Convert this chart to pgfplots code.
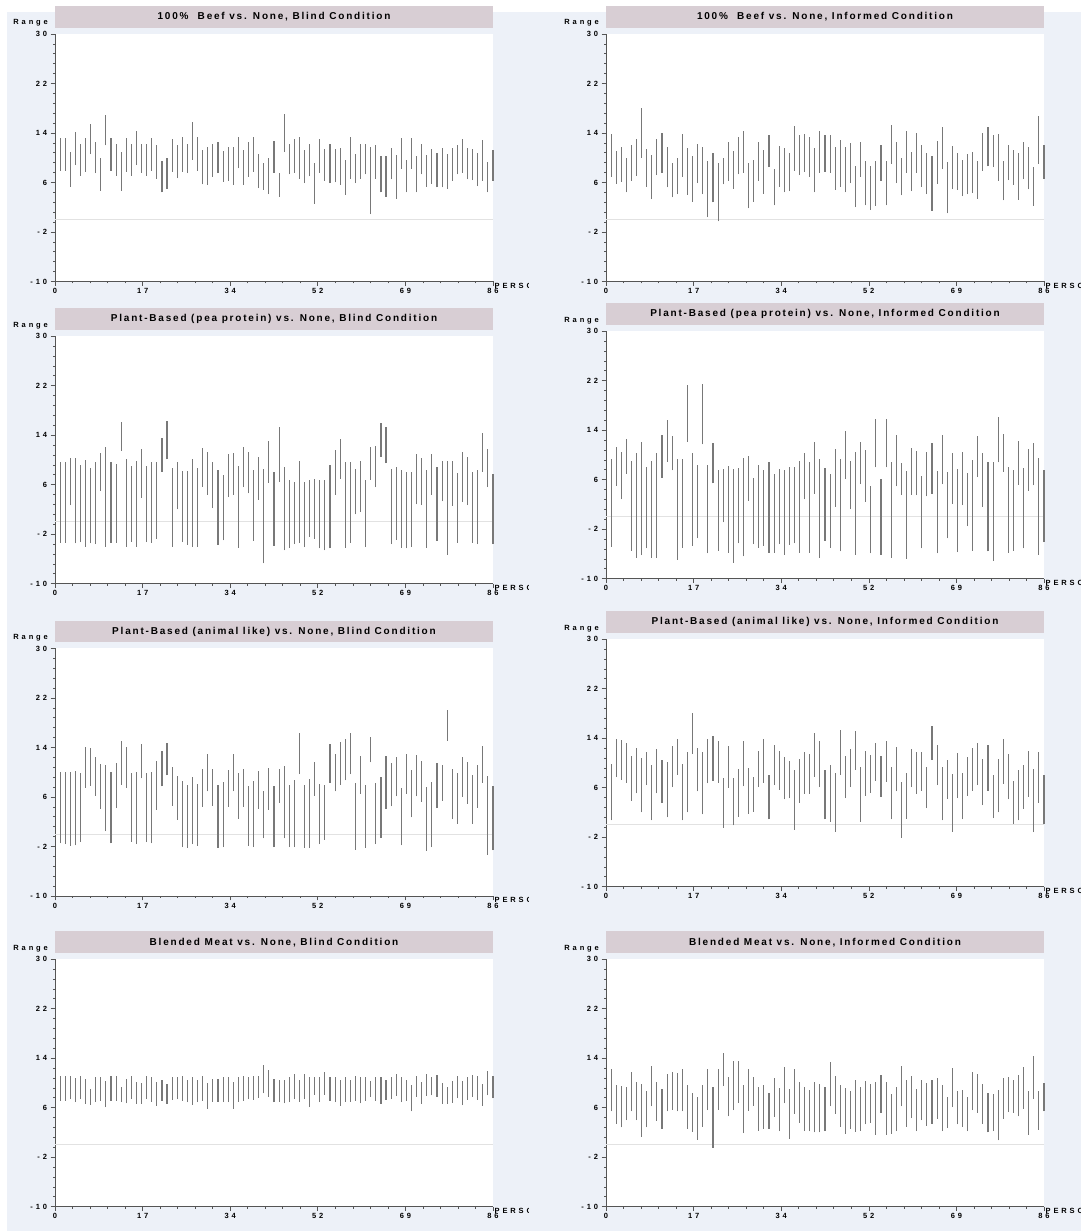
\documentclass[border=0pt]{standalone}
\usepackage{fontspec}
\setmainfont{Liberation Sans}
\newfontfamily\tickfont{Liberation Sans}[LetterSpace=38]
\newfontfamily\titlefont{Liberation Sans}[LetterSpace=18]
\usepackage{pgfplots}
\usepackage{pgfplotstable}
\pgfplotsset{compat=1.18}

\definecolor{bgc}{RGB}{237,241,248}
\definecolor{titlec}{RGB}{216,206,212}
\definecolor{barc}{RGB}{120,120,120}
\definecolor{zeroc}{RGB}{226,226,226}
\definecolor{axc}{RGB}{85,85,85}

\pgfplotstableread{
x lo hi
1 7.9 13.2
2 7.9 13.2
3 5.3 10.9
4 8.8 14.2
5 7.1 12.3
6 7.7 13.2
7 10.6 15.5
8 7.5 12.5
9 4.7 10.0
10 12.0 16.9
11 7.9 13.2
12 7.1 12.3
13 4.7 10.9
14 7.7 13.2
15 7.1 12.3
16 8.8 14.3
17 7.6 12.3
18 7.1 12.3
19 7.9 13.2
20 6.6 12.0
21 4.4 9.5
22 5.0 10.0
23 7.7 13.0
24 6.7 12.0
25 7.7 13.3
26 7.5 12.3
27 9.7 15.8
28 7.9 13.3
29 5.7 11.2
30 5.6 11.7
31 6.9 12.3
32 7.5 12.5
33 6.1 11.1
34 6.3 11.7
35 5.6 11.8
36 8.3 13.4
37 5.6 11.2
38 6.9 12.5
39 7.7 13.4
40 5.1 10.6
41 4.8 9.1
42 4.1 9.9
43 7.6 12.7
44 3.7 7.6
45 10.9 17.1
46 7.3 12.3
47 7.6 13.0
48 6.6 13.4
49 5.9 11.3
50 7.0 12.2
51 2.6 9.1
52 7.6 13.1
53 6.3 11.4
54 5.9 12.3
55 6.0 11.4
56 5.6 11.5
57 4.0 9.6
58 6.6 13.4
59 5.9 10.6
60 6.6 12.3
61 7.3 12.3
62 0.9 11.7
63 6.6 12.1
64 4.4 10.3
65 3.7 10.2
66 6.5 11.6
67 3.4 10.5
68 8.2 13.2
69 4.4 9.6
70 8.2 13.2
71 4.4 10.3
72 7.3 12.3
73 5.3 10.4
74 5.8 11.4
75 5.2 10.8
76 5.2 11.6
77 5.0 10.6
78 6.3 11.6
79 7.3 12.1
80 7.6 13.0
81 6.5 11.6
82 6.4 11.4
83 5.4 10.7
84 6.3 12.8
85 4.4 9.3
86 6.3 11.2
}\dataA

\pgfplotstableread{
x lo hi
1 6.9 13.8
2 5.8 11.1
3 6.1 11.8
4 4.4 10.0
5 6.3 12.1
6 7.1 13.0
7 10.0 18.0
8 5.3 11.4
9 3.3 10.5
10 7.2 13.0
11 7.6 14.0
12 5.2 11.7
13 3.6 9.1
14 4.1 9.9
15 6.9 13.8
16 4.0 11.6
17 2.9 10.3
18 5.9 12.3
19 4.1 11.7
20 0.4 9.5
21 2.8 10.7
22 -0.3 9.1
23 5.7 10.0
24 6.3 12.6
25 5.0 11.1
26 7.3 13.3
27 7.6 14.3
28 1.8 9.1
29 2.9 9.7
30 6.3 12.5
31 4.2 11.2
32 8.5 13.7
33 2.3 8.2
34 5.3 11.9
35 4.4 11.6
36 4.6 10.7
37 7.9 15.1
38 7.2 13.7
39 7.7 13.9
40 6.9 13.4
41 4.4 11.5
42 7.6 14.3
43 7.7 13.6
44 7.6 13.6
45 4.8 11.7
46 5.3 12.9
47 4.4 11.7
48 5.9 12.4
49 2.0 8.6
50 6.9 12.5
51 2.3 9.5
52 1.6 8.6
53 2.2 9.5
54 6.3 12.0
55 2.3 9.5
56 9.0 15.3
57 5.9 12.5
58 3.9 10.0
59 7.6 14.3
60 4.6 11.0
61 7.6 14.0
62 5.3 12.0
63 4.1 10.7
64 1.4 10.2
65 5.8 12.7
66 8.1 15.0
67 1.0 9.3
68 4.9 11.9
69 4.8 10.8
70 3.8 9.7
71 4.1 10.6
72 4.3 11.0
73 3.4 9.4
74 7.9 14.0
75 8.6 15.0
76 8.5 13.6
77 6.3 13.8
78 3.1 9.4
79 6.4 12.0
80 5.6 11.2
81 3.2 10.8
82 6.5 12.5
83 4.9 11.7
84 2.2 8.5
85 9.0 16.7
86 6.6 12.0
}\dataB

\pgfplotstableread{
x lo hi
1 -3.4 9.6
2 -3.4 9.6
3 2.7 10.3
4 -3.5 10.3
5 -3.3 9.2
6 -4.0 10.0
7 -3.5 8.7
8 -3.6 9.6
9 5.0 11.2
10 -4.0 12.1
11 -3.4 9.6
12 -3.4 9.3
13 11.5 16.2
14 -4.0 10.2
15 -3.2 9.1
16 -4.0 9.9
17 3.9 11.7
18 -3.3 9.1
19 -3.4 9.6
20 -2.7 9.6
21 8.1 13.5
22 10.1 16.3
23 -4.0 8.7
24 2.0 9.6
25 -3.3 8.2
26 -3.7 8.2
27 -4.0 10.2
28 -4.0 8.7
29 5.7 12.0
30 4.4 11.3
31 2.2 9.7
32 -3.7 8.3
33 -3.0 7.6
34 4.0 11.0
35 4.4 11.2
36 -4.2 9.1
37 5.6 12.1
38 4.6 11.3
39 -3.1 8.3
40 3.6 10.5
41 -6.7 8.5
42 6.3 13.0
43 -3.9 8.1
44 6.5 15.3
45 -4.6 8.8
46 -4.2 6.7
47 -3.6 6.5
48 -3.4 9.9
49 -4.1 6.4
50 -2.4 6.8
51 -2.7 6.9
52 -4.3 6.7
53 -4.6 6.8
54 -4.3 9.2
55 4.4 11.6
56 7.0 13.4
57 -4.2 9.6
58 -3.4 9.7
59 1.2 8.5
60 1.6 9.9
61 -4.1 6.8
62 6.8 12.1
63 5.6 12.2
64 10.5 16.0
65 9.5 15.3
66 -3.6 8.5
67 -2.9 8.9
68 -4.2 8.3
69 -4.3 8.0
70 -4.0 8.1
71 2.8 11.0
72 2.7 10.3
73 -4.2 8.3
74 4.4 11.0
75 -3.1 8.9
76 3.3 9.9
77 -5.3 9.8
78 2.6 9.8
79 -3.4 7.9
80 3.2 11.3
81 2.7 10.4
82 -3.4 8.1
83 -3.6 8.3
84 8.1 14.4
85 5.6 11.8
86 -3.6 7.7
}\dataC

\pgfplotstableread{
x lo hi
1 -4.8 9.4
2 5.0 11.3
3 2.8 10.5
4 7.0 12.5
5 -5.5 9.1
6 -6.6 10.3
7 -6.2 12.1
8 -5.1 8.0
9 -6.6 9.1
10 -6.6 10.3
11 6.3 13.2
12 8.9 15.6
13 7.5 13.1
14 -6.9 9.3
15 -5.0 9.4
16 12.1 21.3
17 -4.7 10.3
18 -3.5 8.3
19 11.7 21.5
20 -5.9 8.4
21 5.4 11.9
22 -5.5 7.5
23 -0.9 7.7
24 -5.8 8.2
25 -7.4 7.7
26 -4.3 7.9
27 -6.4 9.5
28 2.6 9.8
29 -4.4 6.3
30 -5.0 8.3
31 -4.7 7.6
32 -5.8 8.9
33 -5.8 6.9
34 -4.4 7.8
35 -6.1 7.5
36 -4.5 8.1
37 -4.3 8.1
38 -5.8 9.1
39 2.8 10.3
40 -5.8 8.8
41 3.7 12.1
42 -6.6 9.3
43 -3.9 7.9
44 -5.0 6.9
45 1.6 11.0
46 -5.6 9.3
47 6.1 13.9
48 1.2 9.1
49 -6.1 10.5
50 5.3 12.1
51 2.4 10.8
52 -5.9 4.9
53 8.0 15.8
54 -6.1 6.1
55 8.0 15.8
56 -6.6 8.8
57 4.9 13.3
58 3.5 8.7
59 -6.8 7.4
60 3.6 11.1
61 3.5 10.7
62 -5.1 6.6
63 3.3 10.5
64 3.7 12.0
65 -5.9 7.4
66 5.3 13.3
67 -3.5 7.2
68 2.1 10.3
69 -5.7 7.8
70 1.9 10.5
71 -1.5 7.1
72 -5.5 9.2
73 6.4 13.0
74 1.6 10.3
75 -5.6 8.8
76 -7.1 8.8
77 8.8 16.1
78 7.3 13.4
79 -5.8 8.0
80 -5.5 7.5
81 5.2 12.2
82 -5.1 7.9
83 4.2 11.0
84 5.1 11.9
85 -6.1 9.5
86 -4.1 7.5
}\dataD

\pgfplotstableread{
x lo hi
1 -1.5 10.1
2 -1.6 10.1
3 -1.9 10.1
4 -1.8 10.2
5 -1.2 9.9
6 7.5 14.0
7 7.8 13.9
8 6.2 12.5
9 4.1 11.3
10 0.5 11.1
11 -1.5 10.0
12 4.2 11.5
13 8.0 15.0
14 7.5 14.1
15 -1.2 9.9
16 -1.6 10.0
17 9.0 14.5
18 -1.3 9.9
19 -1.5 10.0
20 3.9 11.8
21 7.7 13.5
22 9.5 14.7
23 4.6 10.9
24 2.3 9.4
25 -2.1 8.6
26 -2.2 8.0
27 -1.6 9.2
28 -1.9 8.1
29 4.4 10.5
30 6.9 13.0
31 4.6 10.6
32 -2.2 7.9
33 -2.1 8.4
34 4.4 10.4
35 6.9 13.0
36 2.5 9.9
37 4.4 10.5
38 -1.9 7.7
39 -2.1 8.6
40 4.1 10.2
41 -0.7 6.9
42 3.9 10.7
43 -2.1 7.8
44 5.1 10.5
45 -0.7 11.0
46 -2.1 8.0
47 -2.1 8.7
48 9.7 16.3
49 -2.2 8.0
50 -2.2 8.9
51 6.2 11.6
52 -1.6 8.1
53 -0.9 8.0
54 8.3 14.6
55 6.9 12.9
56 8.0 14.9
57 8.7 15.3
58 9.7 16.3
59 -2.5 8.3
60 6.5 12.7
61 -2.2 7.9
62 11.6 15.7
63 -1.6 8.3
64 -0.6 9.3
65 4.1 12.7
66 4.5 11.5
67 6.1 12.5
68 -1.8 7.5
69 6.5 12.9
70 2.7 10.4
71 6.1 12.8
72 5.2 11.8
73 -2.7 7.6
74 -2.1 8.5
75 4.2 11.5
76 5.4 11.1
77 15.1 20.1
78 2.4 10.5
79 1.7 9.9
80 6.0 12.4
81 4.9 11.6
82 1.7 9.6
83 4.3 11.1
84 8.3 14.2
85 -3.3 9.4
86 -2.6 7.7
}\dataE

\pgfplotstableread{
x lo hi
1 0.7 9.9
2 7.7 13.8
3 7.3 13.7
4 6.8 13.3
5 3.9 11.2
6 5.1 12.4
7 2.0 10.8
8 6.4 11.8
9 0.7 9.6
10 5.1 12.3
11 3.6 10.5
12 1.2 10.1
13 6.1 12.7
14 8.1 13.8
15 0.7 9.8
16 2.0 11.8
17 11.5 18.1
18 5.4 12.4
19 1.7 11.7
20 6.7 13.8
21 7.1 14.3
22 6.8 13.6
23 -0.5 7.6
24 6.0 12.7
25 -0.1 7.6
26 1.3 9.0
27 6.2 13.5
28 1.8 9.2
29 2.1 7.7
30 6.1 12.0
31 6.8 13.9
32 0.9 8.1
33 6.4 12.9
34 5.7 12.0
35 4.1 11.0
36 4.3 10.3
37 -0.8 8.8
38 3.6 10.6
39 5.0 11.7
40 5.0 11.5
41 7.8 14.9
42 6.1 13.5
43 0.9 8.8
44 0.5 9.6
45 -1.1 8.3
46 8.1 15.3
47 4.3 11.2
48 6.1 12.2
49 8.9 15.1
50 0.5 9.3
51 4.7 11.9
52 5.2 11.3
53 7.1 13.3
54 4.5 11.2
55 7.0 13.5
56 0.9 9.4
57 5.4 12.6
58 -2.1 6.9
59 1.0 8.3
60 6.1 12.3
61 5.0 11.7
62 5.5 11.8
63 2.7 9.3
64 10.5 16.0
65 6.4 12.9
66 0.7 9.3
67 4.2 10.5
68 -1.1 8.2
69 4.3 11.6
70 0.9 8.3
71 4.7 11.0
72 5.5 12.4
73 6.4 13.3
74 3.2 10.6
75 5.5 12.9
76 1.1 8.1
77 2.0 10.6
78 6.6 13.8
79 4.1 11.5
80 0.2 7.1
81 0.7 8.8
82 2.6 9.6
83 4.5 12.0
84 -1.2 9.0
85 3.6 11.8
86 0.1 8.1
}\dataF

\pgfplotstableread{
x lo hi
1 7.1 11.1
2 7.1 11.1
3 7.4 11.1
4 6.9 10.8
5 7.4 11.2
6 6.6 10.6
7 6.5 9.1
8 6.9 10.9
9 7.1 10.9
10 6.1 10.3
11 7.1 11.1
12 7.1 11.1
13 6.9 9.3
14 6.7 10.6
15 7.4 11.2
16 6.6 10.1
17 6.6 10.0
18 7.4 11.2
19 7.0 11.0
20 6.3 10.2
21 7.1 10.4
22 6.6 9.9
23 7.3 10.9
24 7.4 10.9
25 7.1 11.2
26 6.9 10.5
27 6.5 10.9
28 6.9 10.5
29 7.1 11.1
30 5.8 10.0
31 7.0 10.6
32 7.0 10.6
33 6.9 11.0
34 6.9 10.9
35 5.8 10.1
36 7.0 10.9
37 7.1 11.1
38 7.4 11.0
39 7.3 11.2
40 7.6 11.1
41 8.3 12.9
42 7.8 12.1
43 6.9 10.6
44 7.0 10.5
45 6.7 10.5
46 6.9 10.9
47 7.4 11.5
48 7.0 10.4
49 7.4 11.5
50 6.1 10.9
51 8.1 10.9
52 6.9 10.9
53 8.1 11.7
54 7.1 10.9
55 6.9 10.9
56 6.3 10.5
57 7.0 10.9
58 7.0 10.4
59 7.1 11.1
60 6.7 10.9
61 7.1 10.9
62 7.8 10.3
63 7.1 10.9
64 6.6 10.9
65 7.3 10.4
66 7.4 11.0
67 7.9 11.5
68 6.9 10.9
69 7.1 10.4
70 5.4 9.6
71 7.8 11.1
72 6.6 10.2
73 7.9 11.5
74 8.0 11.0
75 7.8 11.3
76 6.6 10.0
77 6.6 9.3
78 6.8 10.3
79 7.5 11.2
80 6.4 10.3
81 7.3 10.9
82 7.8 11.3
83 7.3 11.1
84 6.3 9.9
85 8.0 12.0
86 7.5 11.2
}\dataG

\pgfplotstableread{
x lo hi
1 5.4 12.2
2 3.4 9.6
3 2.8 9.5
4 4.0 9.3
5 5.4 11.7
6 4.0 10.1
7 1.3 9.9
8 2.8 8.7
9 6.2 12.8
10 3.9 10.1
11 2.6 9.1
12 5.4 11.5
13 5.7 11.7
14 5.4 11.6
15 5.4 12.2
16 2.6 9.6
17 2.1 8.3
18 0.8 7.7
19 2.9 9.6
20 5.6 12.3
21 -0.5 9.4
22 5.7 12.2
23 9.5 14.8
24 4.6 11.0
25 5.6 13.6
26 6.8 13.6
27 1.9 9.6
28 5.5 12.2
29 6.3 10.9
30 2.3 9.3
31 2.6 9.7
32 2.6 8.3
33 4.5 10.8
34 2.2 9.2
35 6.7 12.6
36 1.0 9.1
37 5.0 12.2
38 3.6 10.2
39 2.2 9.3
40 2.2 8.9
41 2.0 10.2
42 2.0 9.9
43 2.2 9.3
44 6.2 13.4
45 5.0 11.2
46 2.9 9.7
47 1.8 9.2
48 2.6 8.7
49 2.1 10.5
50 2.3 9.4
51 3.3 10.3
52 3.6 9.9
53 1.6 10.1
54 5.2 11.3
55 1.6 10.1
56 1.8 8.2
57 2.2 9.3
58 6.2 12.7
59 2.9 10.4
60 4.3 11.1
61 2.2 9.0
62 4.0 10.4
63 3.1 10.0
64 3.4 10.4
65 4.2 10.8
66 2.2 9.7
67 2.7 7.7
68 6.1 12.4
69 3.3 8.7
70 2.9 8.9
71 2.2 7.7
72 5.6 11.7
73 5.2 11.5
74 3.4 9.8
75 2.0 8.4
76 2.2 8.2
77 0.7 8.8
78 4.2 10.8
79 5.3 11.0
80 5.2 10.5
81 4.6 11.3
82 5.8 12.5
83 1.6 8.7
84 7.4 14.4
85 2.4 8.7
86 5.4 10.0
}\dataH

\newcommand\lblfont{\tickfont\bfseries\fontsize{7.5}{8.5}\selectfont}

\pgfplotsset{
  panel/.style={
    scale only axis, width=438pt, height=247.5pt,
    xmin=0, xmax=86, ymin=-10, ymax=30,
    axis x line*=bottom, axis y line*=left,
    axis line style={axc, line width=0.7pt},
    axis background/.style={fill=white},
    clip=false,
    xtick={0,17.2,34.4,51.6,68.8,86}, xticklabels={0,17,34,52,69,86},
    ytick={-10,-2,6,14,22,30}, yticklabels={-10,-2,6,14,22,30},
    minor x tick num=4, minor y tick num=4,
    tick align=outside, major tick length=4.5pt, minor tick length=2pt,
    every tick/.style={axc, line width=0.6pt},
    tick label style={font=\lblfont},
    xticklabel style={yshift=1pt},
    extra y ticks={0}, extra y tick labels={},
    extra y tick style={grid=major, major grid style={zeroc, line width=0.7pt}, major tick length=0pt},
    title style={at={(0.5,1)}, anchor=south, yshift=0pt, fill=titlec,
      minimum width=438pt, minimum height=21.5pt, inner sep=0pt,
      font=\titlefont\bfseries\fontsize{10}{12}\selectfont},
  },
  bars/.style={draw=none, mark=none, no markers,
    error bars/.cd, y dir=plus, y explicit, error mark=none,
    error bar style={draw=barc, line width=1.1pt, solid}},
}

\newcommand\panel[4]{% x0, y0 (bottom), title, table
  \begin{axis}[panel, at={(#1pt,#2pt)}, anchor=south west, title={#3}]
    \addplot[bars] table[x=x, y=lo, y error expr=\thisrow{hi}-\thisrow{lo}] {#4};
    \node[font=\lblfont, anchor=base east, inner sep=0pt] at (rel axis cs:0,1) [xshift=-7pt, yshift=9pt] {Range};
    \node[font=\lblfont, anchor=north west, inner sep=0pt] at (rel axis cs:1,0) [xshift=1.5pt, yshift=-1.5pt] {PERSON};
  \end{axis}}

\begin{document}
\begin{tikzpicture}[x=1pt,y=1pt]
  \fill[white] (0,0) rectangle (1081,1231);
  \fill[bgc] (7,0) rectangle (1081,1219);
  \begin{scope}
    \clip (0,0) rectangle (528,1231);
    \panel{55}{949.5}{100\%\ \ Beef vs. None, Blind Condition}{\dataA}
    \panel{55}{647.3}{Plant-Based (pea protein) vs. None, Blind Condition}{\dataC}
    \panel{55}{335}{Plant-Based (animal like) vs. None, Blind Condition}{\dataE}
    \panel{55}{24.3}{Blended Meat vs. None, Blind Condition}{\dataG}
  \end{scope}
  \begin{scope}
    \clip (538,0) rectangle (1081,1231);
    \panel{606}{949.5}{100\%\ \ Beef vs. None, Informed Condition}{\dataB}
    \panel{606}{652.3}{Plant-Based (pea protein) vs. None, Informed Condition}{\dataD}
    \panel{606}{344.3}{Plant-Based (animal like) vs. None, Informed Condition}{\dataF}
    \panel{606}{24.3}{Blended Meat vs. None, Informed Condition}{\dataH}
  \end{scope}
\end{tikzpicture}
\end{document}
